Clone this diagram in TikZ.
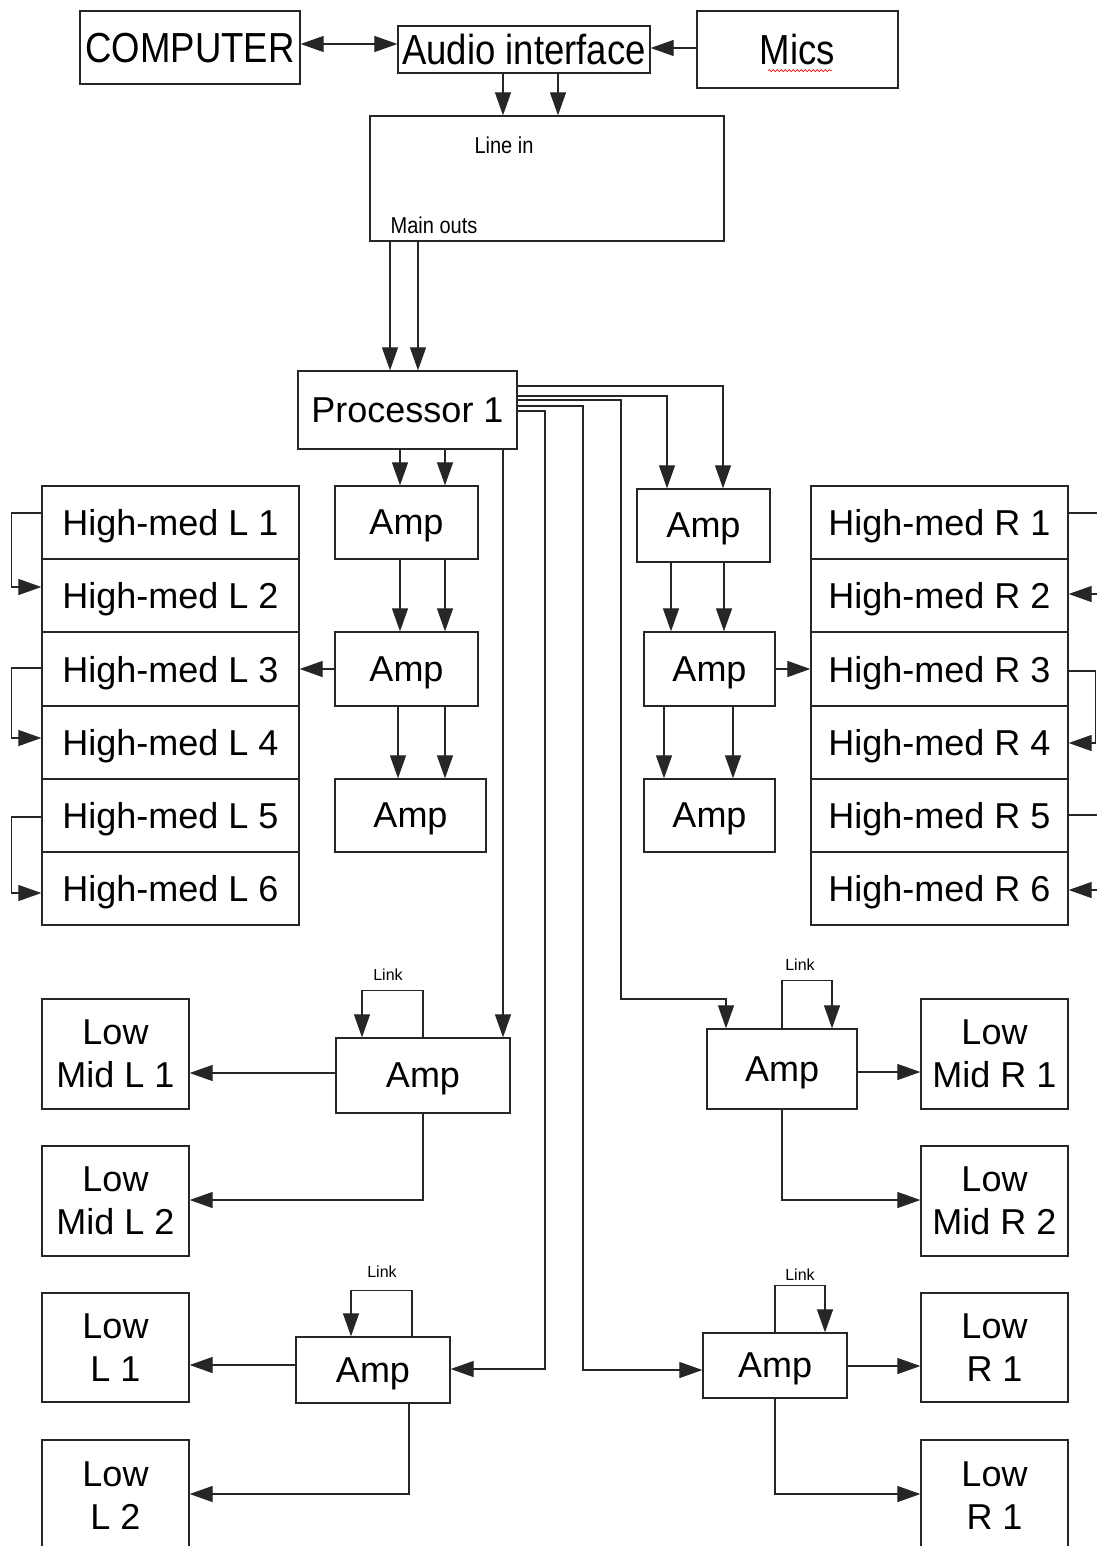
\documentclass[tikz,border=0pt]{standalone}
\usepackage{fontspec}
\setmainfont{Liberation Sans}
\newfontfamily\narrowf[FakeStretch=0.87]{Liberation Sans}
\usetikzlibrary{arrows.meta,decorations.pathmorphing}
\begin{document}
\begin{tikzpicture}[x=1pt,y=-1pt,
  box/.style={draw=black!85, line width=1.3pt, inner sep=0pt, align=center, text depth=0pt,
    font=\fontsize{36}{43}\selectfont},
  topbox/.style={box, font=\narrowf\fontsize{42}{48}\selectfont},
  arr/.style={-{Triangle[length=23pt,width=16pt]}, line width=1.2pt, draw=black!85},
  darr/.style={{Triangle[length=23pt,width=16pt]}-{Triangle[length=23pt,width=16pt]}, line width=1.2pt, draw=black!85},
  smalllbl/.style={inner sep=0pt, font=\narrowf\fontsize{23}{26}\selectfont},
  linklbl/.style={inner sep=0pt, font=\fontsize{16}{18}\selectfont},
]
\useasboundingbox[fill=white] (0,0) rectangle (1096,1546);

% top row
\node[topbox, minimum width=220pt, minimum height=73pt] (computer) at (190,47.5) {COMPUTER};
\node[topbox, minimum width=252pt, minimum height=47pt] (audio) at (524,49.5) {Audio interface};
\node[topbox, minimum width=201pt, minimum height=77pt] (mics) at (797.5,49.5) {Mics};
\draw[red, line width=0.6pt, decorate, decoration={snake, amplitude=1.1pt, segment length=4pt}] (mics.south -| 768,0) ++(0,-18) -- ++(64,0);

% mixer
\node[box, minimum width=354pt, minimum height=125pt] (mixer) at (547,178.5) {};
\node[smalllbl] (linein) at (504,145) {Line in};
\node[smalllbl] (mainouts) at (434,225) {Main outs};

% processor
\node[box, minimum width=219pt, minimum height=78pt] (proc) at (407.5,410) {Processor 1};

% left amps
\node[box, minimum width=143pt, minimum height=73pt] (ampL1) at (406.5,522.5) {Amp};
\node[box, minimum width=143pt, minimum height=74pt] (ampL2) at (406.5,669) {Amp};
\node[box, minimum width=151pt, minimum height=73pt] (ampL3) at (410.5,815.5) {Amp};

% right amps
\node[box, minimum width=133pt, minimum height=73pt] (ampR1) at (703.5,525.5) {Amp};
\node[box, minimum width=131pt, minimum height=74pt] (ampR2) at (709.5,669) {Amp};
\node[box, minimum width=131pt, minimum height=73pt] (ampR3) at (709.5,815.5) {Amp};

% high-med columns
\foreach \i/\y in {1/522.5,2/595.5,3/669,4/742.5,5/815.5,6/888.5}{
  \node[box, minimum width=257pt, minimum height=73.2pt] (hmL\i) at (170.5,\y) {High-med L \i};
  \node[box, minimum width=257pt, minimum height=73.2pt] (hmR\i) at (939.5,\y) {High-med R \i};
}

% low-mid amps and speakers
\node[box, minimum width=174pt, minimum height=75pt] (ampLM) at (423,1075.5) {Amp};
\node[box, minimum width=150pt, minimum height=80pt] (ampRM) at (782,1069) {Amp};
\node[box, minimum width=147pt, minimum height=110pt] (lmL1) at (115.5,1054) {Low\\Mid L 1};
\node[box, minimum width=147pt, minimum height=110pt] (lmL2) at (115.5,1201) {Low\\Mid L 2};
\node[box, minimum width=147pt, minimum height=110pt] (lmR1) at (994.5,1054) {Low\\Mid R 1};
\node[box, minimum width=147pt, minimum height=110pt] (lmR2) at (994.5,1201) {Low\\Mid R 2};

% low amps and speakers
\node[box, minimum width=154pt, minimum height=66pt] (ampLL) at (373,1370) {Amp};
\node[box, minimum width=144pt, minimum height=65pt] (ampRL) at (775,1365.5) {Amp};
\node[box, minimum width=147pt, minimum height=109pt] (lowL1) at (115.5,1347.5) {Low\\L 1};
\node[box, minimum width=147pt, minimum height=112pt] (lowL2) at (115.5,1496) {Low\\L 2};
\node[box, minimum width=147pt, minimum height=109pt] (lowR1) at (994.5,1347.5) {Low\\R 1};
\node[box, minimum width=147pt, minimum height=112pt] (lowR1b) at (994.5,1496) {Low\\R 1};

% link labels
\node[linklbl] (lkLM) at (388,975) {Link};
\node[linklbl] (lkRM) at (800,965) {Link};
\node[linklbl] (lkLL) at (382,1272) {Link};
\node[linklbl] (lkRL) at (800,1275) {Link};

% top connectors
\draw[darr] (computer.east |- 0,44) -- (audio.west |- 0,44);
\draw[arr] (mics.west |- 0,48) -- (audio.east |- 0,48);
\draw[arr] (audio.south -| 503,0) -- (mixer.north -| 503,0);
\draw[arr] (audio.south -| 558,0) -- (mixer.north -| 558,0);
\draw[arr] (mixer.south -| 390,0) -- (proc.north -| 390,0);
\draw[arr] (mixer.south -| 418,0) -- (proc.north -| 418,0);

% processor to left amp chain
\draw[arr] (proc.south -| 400,0) -- (ampL1.north -| 400,0);
\draw[arr] (proc.south -| 445,0) -- (ampL1.north -| 445,0);
\draw[arr] (ampL1.south -| 400,0) -- (ampL2.north -| 400,0);
\draw[arr] (ampL1.south -| 445,0) -- (ampL2.north -| 445,0);
\draw[arr] (ampL2.south -| 398,0) -- (ampL3.north -| 398,0);
\draw[arr] (ampL2.south -| 445,0) -- (ampL3.north -| 445,0);
\draw[arr] (ampL2.west) -- (hmL3.east);

% processor to right amp chain
\draw[arr] (proc.east |- 0,386) -| (ampR1.north -| 723,0);
\draw[arr] (proc.east |- 0,396) -| (ampR1.north -| 667,0);
\draw[arr] (ampR1.south -| 671,0) -- (ampR2.north -| 671,0);
\draw[arr] (ampR1.south -| 724,0) -- (ampR2.north -| 724,0);
\draw[arr] (ampR2.south -| 664,0) -- (ampR3.north -| 664,0);
\draw[arr] (ampR2.south -| 733,0) -- (ampR3.north -| 733,0);
\draw[arr] (ampR2.east) -- (hmR3.west);

% processor to low-mid and low amps
\coordinate (bendRM) at (621,999);
\draw[arr] (proc.east |- 0,400) -| (bendRM) -| (ampRM.north -| 726,0);
\draw[arr] (proc.east |- 0,406) -| (583,1370) -- (ampRL.west |- 0,1370);
\draw[arr] (proc.east |- 0,411) -| (545,1369) -- (ampLL.east |- 0,1369);
\draw[arr] (proc.south -| 503,0) -- (ampLM.north -| 503,0);

% left high-med links
\draw[arr] ([yshift=9.5pt]hmL1.west) -- ++(-30,0) |- ([yshift=8.5pt]hmL2.west);
\draw[arr] ([yshift=1pt]hmL3.west) -- ++(-30,0) |- ([yshift=4.5pt]hmL4.west);
\draw[arr] ([yshift=-1.5pt]hmL5.west) -- ++(-30,0) |- ([yshift=-4.5pt]hmL6.west);

% right high-med links
\draw[arr] ([yshift=9.5pt]hmR1.east) -- ++(34,0) |- ([yshift=1.5pt]hmR2.east);
\draw[arr] ([yshift=-2pt]hmR3.east) -- ++(27,0) |- ([yshift=-0.5pt]hmR4.east);
\draw[arr] ([yshift=0.5pt]hmR5.east) -- ++(34,0) |- ([yshift=-1.5pt]hmR6.east);

% low-mid left amp
\draw[arr] (ampLM.north -| 423,0) -- ++(0,-47) -| (ampLM.north -| 362,0);
\draw[arr] (ampLM.west |- 0,1073) -- (lmL1.east |- 0,1073);
\draw[arr] (ampLM.south -| 423,0) |- (lmL2.east |- 0,1200);

% low-mid right amp
\draw[arr] (ampRM.north -| 782,0) -- ++(0,-48) -| (ampRM.north -| 832,0);
\draw[arr] (ampRM.east |- 0,1072) -- (lmR1.west |- 0,1072);
\draw[arr] (ampRM.south -| 782,0) |- (lmR2.west |- 0,1200);

% low left amp
\draw[arr] (ampLL.north -| 412,0) -- ++(0,-46) -| (ampLL.north -| 351,0);
\draw[arr] (ampLL.west |- 0,1365) -- (lowL1.east |- 0,1365);
\draw[arr] (ampLL.south -| 409,0) |- (lowL2.east |- 0,1494);

% low right amp
\draw[arr] (ampRL.north -| 775,0) -- ++(0,-47) -| (ampRL.north -| 825,0);
\draw[arr] (ampRL.east |- 0,1366) -- (lowR1.west |- 0,1366);
\draw[arr] (ampRL.south -| 775,0) |- (lowR1b.west |- 0,1494);
\end{tikzpicture}
\end{document}
